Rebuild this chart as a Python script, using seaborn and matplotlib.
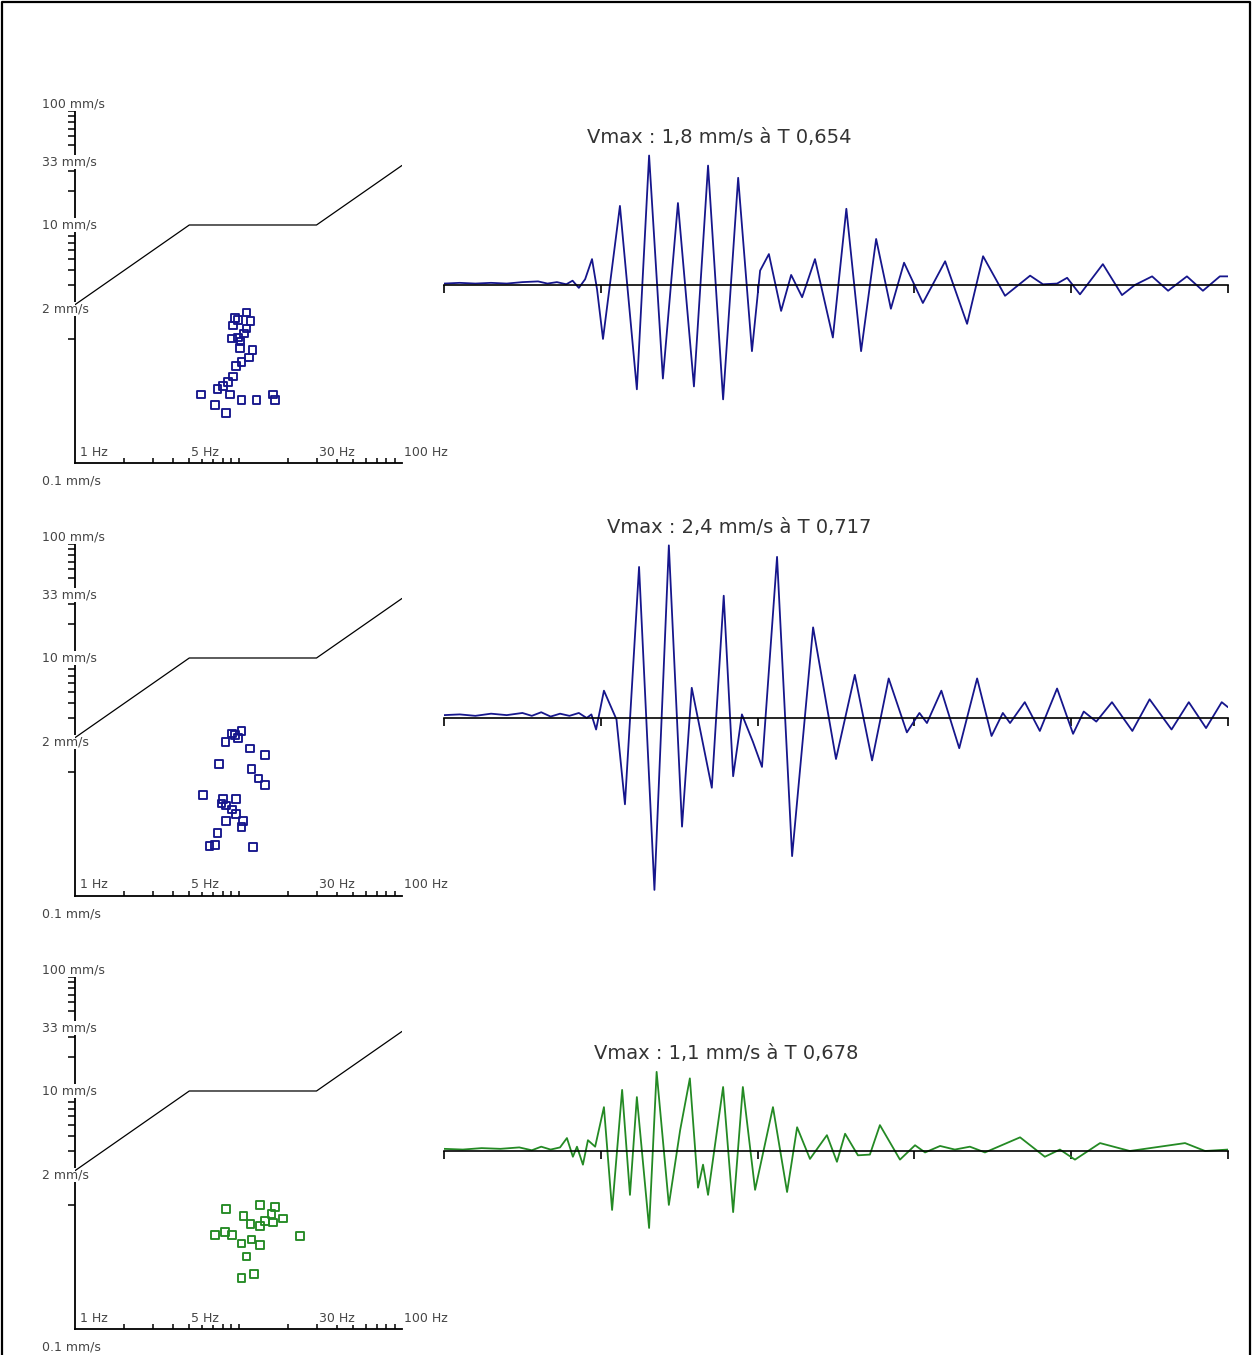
import matplotlib
matplotlib.use("Agg")
import matplotlib.pyplot as plt
from matplotlib.lines import Line2D
from matplotlib.ticker import FixedLocator, NullLocator, NullFormatter
import seaborn as sns

# ---------------------------------------------------------------- data
# admissible-velocity limit curve (frequency in Hz, velocity in mm/s)
limit_freq = [1, 5, 30, 100]
limit_vel = [2, 10, 10, 33.3]

# dominant frequency / peak velocity of each half-cycle, per channel
freq_1 = [11.22, 9.52, 9.97, 11.87, 9.29, 11.22, 10.85, 9.09, 9.97, 10.31, 10.21, 12.21, 11.59, 10.46,
          9.65, 9.29, 8.66, 8.07, 7.42, 5.90, 8.87, 16.32, 10.46, 12.92, 16.72, 7.18, 8.39]
peak_1 = [1.71, 1.52, 1.46, 1.44, 1.31, 1.24, 1.12, 1.01, 1.03, 0.95, 0.83, 0.80, 0.69, 0.625,
          0.58, 0.467, 0.417, 0.389, 0.364, 0.327, 0.327, 0.327, 0.29, 0.29, 0.29, 0.264, 0.223]

freq_2 = [9.09, 10.46, 9.52, 9.97, 8.35, 11.76, 14.53, 7.63, 12.04, 13.22, 14.53, 6.04, 8.07, 9.65,
          7.89, 8.39, 9.09, 9.65, 10.61, 8.39, 10.46, 7.42, 7.18, 6.63, 12.31]
peak_2 = [2.18, 2.30, 2.11, 1.98, 1.84, 1.61, 1.41, 1.17, 1.06, 0.88, 0.77, 0.63, 0.58, 0.58,
          0.53, 0.51, 0.47, 0.43, 0.37, 0.37, 0.33, 0.29, 0.23, 0.224, 0.22]

freq_3 = [8.39, 13.54, 16.72, 15.96, 10.70, 18.79, 14.53, 16.32, 11.87, 13.54, 8.27, 7.18, 9.09,
          23.8, 12.04, 10.46, 13.54, 11.22, 10.46, 12.44]
peak_3 = [0.917, 1.0, 0.955, 0.834, 0.80, 0.764, 0.728, 0.70, 0.68, 0.655, 0.583, 0.546, 0.546,
          0.534, 0.50, 0.461, 0.446, 0.352, 0.228, 0.248]

# velocity records (time in s, velocity in mm/s)
time_1 = [0.0, 0.05, 0.10, 0.15, 0.20, 0.25, 0.30, 0.33, 0.36, 0.39, 0.41, 0.43, 0.45, 0.472, 0.488,
          0.507, 0.561, 0.615, 0.654, 0.698, 0.746, 0.797, 0.842, 0.890, 0.938, 0.982, 1.008, 1.036,
          1.075, 1.107, 1.142, 1.183, 1.240, 1.283, 1.330, 1.378, 1.425, 1.467, 1.527, 1.598, 1.668,
          1.719, 1.789, 1.869, 1.910, 1.955, 1.987, 2.028, 2.101, 2.162, 2.203, 2.258, 2.309, 2.369,
          2.420, 2.474, 2.500]
vel_1 = [0.02, 0.03, 0.02, 0.03, 0.02, 0.04, 0.05, 0.02, 0.04, 0.01, 0.06, -0.04, 0.08, 0.36, -0.06,
         -0.75, 1.10, -1.45, 1.80, -1.30, 1.14, -1.41, 1.66, -1.59, 1.49, -0.92, 0.20, 0.43,
         -0.36, 0.14, -0.17, 0.36, -0.73, 1.06, -0.92, 0.64, -0.33, 0.31, -0.25, 0.33, -0.54,
         0.40, -0.15, 0.13, 0.01, 0.02, 0.10, -0.13, 0.29, -0.14, 0.00, 0.12, -0.08, 0.12,
         -0.08, 0.12, 0.12]

time_2 = [0.0, 0.05, 0.10, 0.15, 0.20, 0.25, 0.28, 0.31, 0.34, 0.37, 0.40, 0.43, 0.455, 0.47, 0.485,
          0.51, 0.55, 0.577, 0.622, 0.671, 0.717, 0.759, 0.79, 0.854, 0.892, 0.922, 0.95, 0.985,
          1.014, 1.062, 1.11, 1.177, 1.25, 1.31, 1.365, 1.418, 1.476, 1.516, 1.54, 1.586, 1.643,
          1.70, 1.746, 1.782, 1.805, 1.852, 1.90, 1.955, 2.006, 2.04, 2.08, 2.13, 2.195, 2.25,
          2.32, 2.375, 2.43, 2.48, 2.50]
vel_2 = [0.04, 0.05, 0.03, 0.06, 0.04, 0.07, 0.03, 0.08, 0.02, 0.06, 0.03, 0.07, 0.00, 0.05, -0.16,
         0.38, -0.02, -1.20, 2.10, -2.39, 2.40, -1.51, 0.42, -0.97, 1.70, -0.81, 0.05, -0.33,
         -0.68, 2.24, -1.92, 1.26, -0.57, 0.60, -0.59, 0.55, -0.20, 0.07, -0.07, 0.38, -0.42,
         0.55, -0.25, 0.07, -0.07, 0.22, -0.18, 0.41, -0.22, 0.09, -0.05, 0.22, -0.18, 0.26,
         -0.16, 0.22, -0.14, 0.22, 0.15]

time_3 = [0.0, 0.06, 0.12, 0.18, 0.24, 0.28, 0.31, 0.34, 0.37, 0.392, 0.411, 0.424, 0.443, 0.459,
          0.482, 0.510, 0.536, 0.568, 0.593, 0.615, 0.654, 0.678, 0.717, 0.753, 0.784, 0.810,
          0.826, 0.842, 0.890, 0.922, 0.953, 0.992, 1.049, 1.094, 1.126, 1.167, 1.221, 1.253,
          1.279, 1.320, 1.358, 1.390, 1.454, 1.502, 1.534, 1.582, 1.629, 1.677, 1.725, 1.837,
          1.916, 1.964, 2.012, 2.092, 2.187, 2.251, 2.363, 2.427, 2.500]
vel_3 = [0.03, 0.02, 0.04, 0.03, 0.05, 0.01, 0.06, 0.02, 0.05, 0.18, -0.08, 0.06, -0.19, 0.15,
         0.06, 0.61, -0.82, 0.85, -0.61, 0.75, -1.07, 1.10, -0.75, 0.29, 1.01, -0.51,
         -0.19, -0.61, 0.89, -0.85, 0.89, -0.54, 0.61, -0.57, 0.33, -0.11, 0.22, -0.15,
         0.24, -0.06, -0.05, 0.36, -0.12, 0.08, -0.02, 0.07, 0.02, 0.06, -0.02, 0.19,
         -0.08, 0.02, -0.12, 0.11, 0.00, 0.04, 0.11, 0.00, 0.02]

vmax_values = [1.8, 2.4, 1.1]
vmax_times = [0.654, 0.717, 0.678]

vel_tick_values = [100, 33, 10, 2]
vel_tick_labels = ["100 mm/s", "33 mm/s", "10 mm/s", "2 mm/s"]
freq_tick_values = [1, 5, 30, 100]
freq_tick_labels = ["1 Hz", "5 Hz", "30 Hz", "100 Hz"]
bottom_label = "0.1 mm/s"

# ---------------------------------------------------------------- style
sns.set_style("white")
plt.rcParams["font.family"] = ["DejaVu Sans"]

W, H = 1252, 1355
ROW_STEP = 433
NAVY = "#16168c"
GREEN = "#248a24"
LABEL_COLOR = "#454545"

channels = [
    (freq_1, peak_1, time_1, vel_1, NAVY),
    (freq_2, peak_2, time_2, vel_2, NAVY),
    (freq_3, peak_3, time_3, vel_3, GREEN),
]

# pixel offsets of the velocity labels relative to their value
vel_label_dy = [7, 4, 0, -4]

fig = plt.figure(figsize=(W / 100, H / 100), dpi=100)
fig.patch.set_facecolor("white")


def fig_rect(left_px, top_px, right_px, bottom_px):
    return [left_px / W, 1 - bottom_px / H, (right_px - left_px) / W, (bottom_px - top_px) / H]


for k, (freqs, peaks, times, vels, color) in enumerate(channels):
    d = k * ROW_STEP

    # ---------------- frequency / velocity diagram (log-log)
    ax = fig.add_axes(fig_rect(75, 111 + d, 402, 463 + d))
    ax.set_xscale("log")
    ax.set_yscale("log")
    ax.set_xlim(1, 100)
    ax.set_ylim(0.0817, 100)
    for side in ("top", "right"):
        ax.spines[side].set_visible(False)
    for side in ("left", "bottom"):
        ax.spines[side].set_color("black")
        ax.spines[side].set_linewidth(1.3)

    ax.yaxis.set_major_locator(FixedLocator([100, 90, 80, 70, 60, 50, 40, 30, 20,
                                             10, 9, 8, 7, 6, 5, 4, 3, 2, 1]))
    ax.xaxis.set_major_locator(FixedLocator([2, 3, 4, 5, 6, 7, 8, 9, 10,
                                             20, 30, 40, 50, 60, 70, 80, 90]))
    ax.xaxis.set_minor_locator(NullLocator())
    ax.yaxis.set_minor_locator(NullLocator())
    ax.xaxis.set_major_formatter(NullFormatter())
    ax.yaxis.set_major_formatter(NullFormatter())
    ax.tick_params(axis="y", direction="out", length=5, width=1.1, color="black", left=True)
    ax.tick_params(axis="x", direction="in", length=3.5, width=1.1, color="black", bottom=True)
    ax.set_xlabel("")
    ax.set_ylabel("")

    sns.lineplot(x=limit_freq, y=limit_vel, ax=ax, color="black", linewidth=0.9,
                 sort=False, estimator=None, zorder=4)

    sns.scatterplot(x=freqs, y=peaks, ax=ax, marker="s", s=30, color=color, zorder=5)
    pts = ax.collections[-1]
    pts.set_facecolor("none")
    pts.set_edgecolor(color)
    pts.set_linewidth(1.35)
    pts.set_clip_on(False)

    ytrans = ax.get_yaxis_transform()
    for val, lab, dy in zip(vel_tick_values, vel_tick_labels, vel_label_dy):
        ax.annotate(lab, xy=(0, val), xycoords=ytrans, xytext=(-33, dy),
                    textcoords="offset pixels", ha="left", va="center",
                    fontsize=9, color=LABEL_COLOR, zorder=3,
                    bbox=dict(facecolor="white", edgecolor="none", pad=0.3),
                    annotation_clip=False)
    ax.annotate(bottom_label, xy=(0, 0), xycoords="axes fraction", xytext=(-33, -18),
                textcoords="offset pixels", ha="left", va="center",
                fontsize=9, color=LABEL_COLOR, annotation_clip=False)

    xtrans = ax.get_xaxis_transform()
    for val, lab in zip(freq_tick_values, freq_tick_labels):
        ax.annotate(lab, xy=(val, 0), xycoords=xtrans, xytext=(2 if val > 1 else 5, 11),
                    textcoords="offset pixels", ha="left", va="center",
                    fontsize=9, color=LABEL_COLOR, zorder=3,
                    bbox=dict(facecolor="white", edgecolor="none", pad=0.3),
                    annotation_clip=False)

    # ---------------- velocity record
    axw = fig.add_axes(fig_rect(444, 98 + d, 1228, 472 + d))
    axw.set_xlim(0, 2.5)
    axw.set_ylim(-2.6, 2.6)
    sns.lineplot(x=times, y=vels, ax=axw, color=color, linewidth=1.3,
                 sort=False, estimator=None, zorder=2)
    for side in ("top", "right", "left"):
        axw.spines[side].set_visible(False)
    axw.spines["bottom"].set_position(("data", 0))
    axw.spines["bottom"].set_color("black")
    axw.spines["bottom"].set_linewidth(1.2)
    axw.spines["bottom"].set_zorder(3)
    axw.xaxis.set_major_locator(FixedLocator([0, 0.5, 1.0, 1.5, 2.0, 2.5]))
    axw.xaxis.set_major_formatter(NullFormatter())
    axw.set_yticks([])
    axw.tick_params(axis="x", direction="out", length=6, width=1.2, color="black", bottom=True)
    axw.set_xlabel("")
    axw.set_ylabel("")
    axw.patch.set_alpha(0)

    vmax = vmax_values[k]
    tmax = vmax_times[k]
    title = "Vmax : {} mm/s à T {}".format(f"{vmax:.1f}".replace(".", ","),
                                          f"{tmax:.3f}".replace(".", ","))
    axw.annotate(title, xy=(tmax, vmax), xycoords="data", xytext=(70, 18),
                 textcoords="offset pixels", ha="center", va="center",
                 fontsize=14, color="#333333", annotation_clip=False)

# outer frame
frame = Line2D([0.0012, 0.0012, 0.9988, 0.9988], [0.0, 0.9988, 0.9988, 0.0],
               transform=fig.transFigure, color="black", linewidth=1.6)
fig.add_artist(frame)

fig.savefig("out.png", dpi=100, facecolor="white")
